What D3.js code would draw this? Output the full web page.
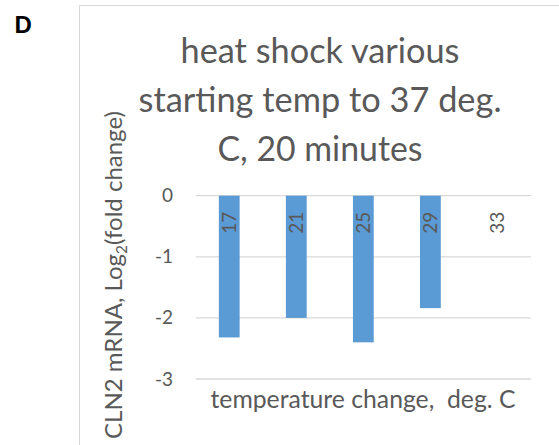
<!DOCTYPE html>
<html><head><meta charset="utf-8">
<script src="https://cdn.jsdelivr.net/npm/d3@7"></script>
<style>body{margin:0;background:#fff}svg{display:block}text{font-family:Lato,"Open Sans",sans-serif;fill:#595959}</style>
</head><body>
<script>
const categories = ["17","21","25","29","33"];
const values = [-2.32, -2.0, -2.40, -1.84, 0];
const yTicks = [0, -1, -2, -3];
const titleLines = ["heat shock various","starting temp to 37 deg.","C, 20 minutes"];

const W = 559, H = 445;
const svg = d3.select("body").append("svg").attr("width", W).attr("height", H);

// fit a text element's font size so its length matches a target width
function fit(sel, target) {
  const node = sel.node();
  const fs = parseFloat(sel.style("font-size"));
  const len = node.getComputedTextLength();
  if (len > 0) sel.style("font-size", (fs * target / len).toFixed(2) + "px");
}

// chart frame
svg.append("rect").attr("x", 79.5).attr("y", 5.5).attr("width", 600).attr("height", 600)
  .attr("fill", "none").attr("stroke", "#d9d9d9").attr("stroke-width", 1);

svg.append("text").attr("x", 14.5).attr("y", 33).text("D")
  .style("font-family", "Arial, 'Liberation Sans', sans-serif").style("font-weight", "bold")
  .style("font-size", "24px").style("fill", "#000");

const x = d3.scaleBand().domain(categories).range([195.7, 531]).paddingInner(0.69).paddingOuter(0.345);
const y = d3.scaleLinear().domain([-3, 0]).range([379, 195.7]);

// gridlines
svg.append("g").selectAll("line").data(yTicks).join("line")
  .attr("x1", 195.7).attr("x2", 531).attr("y1", d => y(d)).attr("y2", d => y(d))
  .attr("stroke", "#d9d9d9").attr("stroke-width", 1.3);

// y axis labels
const yAxis = d3.axisLeft(y).tickValues(yTicks).tickSize(0).tickPadding(0).tickFormat(d => String(d));
const ga = svg.append("g").attr("transform", "translate(173,0)").call(yAxis);
ga.select(".domain").remove();
ga.selectAll("text").attr("x", 0).style("font-size", "19px").style("font-family", "Lato,sans-serif").attr("fill", "#595959");

// bars
svg.append("g").selectAll("rect").data(values).join("rect")
  .attr("x", (d, i) => x(categories[i]))
  .attr("width", x.bandwidth())
  .attr("y", d => y(Math.max(0, d)))
  .attr("height", d => Math.abs(y(d) - y(0)))
  .attr("fill", "#5B9BD5");

// category labels (rotated, inside top)
svg.append("g").selectAll("text").data(categories).join("text")
  .attr("transform", d => `translate(${x(d) + x.bandwidth()/2 + 7},${y(0) + 16}) rotate(-90)`)
  .attr("text-anchor", "end")
  .style("font-size", "19px")
  .text(d => d);

// title
const titleWidths = [279, 363, 205];
svg.append("g").selectAll("text").data(titleLines).join("text")
  .attr("x", 320).attr("y", (d, i) => 62.5 + i * 49)
  .attr("text-anchor", "middle").style("font-size", "34px").text(d => d)
  .each(function(d, i) { fit(d3.select(this), titleWidths[i]); });

// axis titles
const xt = svg.append("text").attr("x", 363).attr("y", 408).attr("text-anchor", "middle")
  .style("font-size", "24px").style("white-space", "pre").text("temperature change,  deg. C");
fit(xt, 305);

const yt = svg.append("text").attr("transform", "translate(122,275) rotate(-90)")
  .attr("text-anchor", "middle").style("font-size", "22px");
yt.append("tspan").text("CLN2 mRNA, Log");
yt.append("tspan").attr("dy", 5).style("font-size", "0.64em").text("2");
yt.append("tspan").attr("dy", -5).text("(fold change)");
fit(yt, 328);
</script>
</body></html>
